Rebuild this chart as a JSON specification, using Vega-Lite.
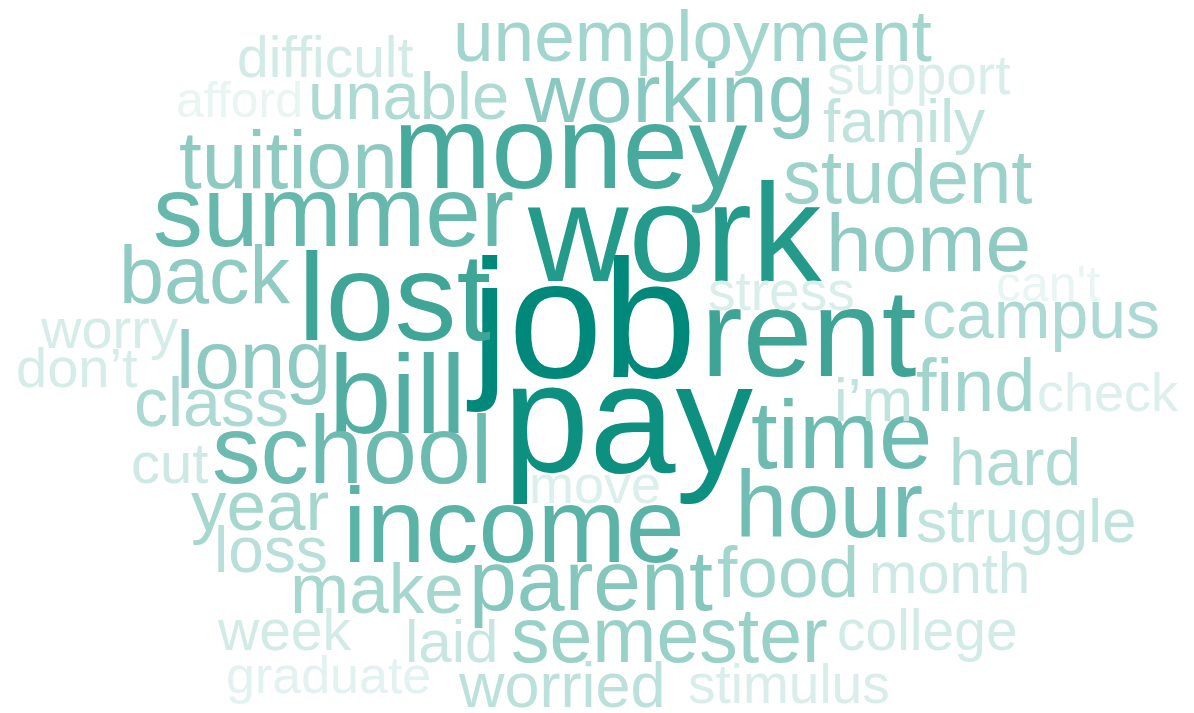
{
  "$schema": "https://vega.github.io/schema/vega-lite/v6.json",
  "width": 1194,
  "height": 713,
  "autosize": "none",
  "padding": 0,
  "background": "white",
  "config": {"view": {"stroke": null}},
  "data": {
    "values": [
      {"word": "job", "x": 471, "y": 377, "freq": 169},
      {"word": "pay", "x": 503, "y": 472, "freq": 155},
      {"word": "work", "x": 528, "y": 281, "freq": 139},
      {"word": "rent", "x": 701, "y": 376, "freq": 125},
      {"word": "lost", "x": 298, "y": 340, "freq": 124},
      {"word": "money", "x": 393, "y": 188, "freq": 118},
      {"word": "bill", "x": 329, "y": 433, "freq": 112},
      {"word": "income", "x": 343, "y": 562, "freq": 106},
      {"word": "summer", "x": 153, "y": 246, "freq": 100},
      {"word": "school", "x": 212, "y": 483, "freq": 97},
      {"word": "time", "x": 751, "y": 468, "freq": 96},
      {"word": "hour", "x": 735, "y": 537, "freq": 94},
      {"word": "parent", "x": 469, "y": 610, "freq": 86},
      {"word": "tuition", "x": 179, "y": 188, "freq": 82},
      {"word": "working", "x": 525, "y": 122, "freq": 84},
      {"word": "long", "x": 176, "y": 388, "freq": 82},
      {"word": "home", "x": 826, "y": 271, "freq": 82},
      {"word": "back", "x": 119, "y": 303, "freq": 81},
      {"word": "semester", "x": 511, "y": 662, "freq": 77},
      {"word": "student", "x": 783, "y": 203, "freq": 76},
      {"word": "unemployment", "x": 453, "y": 61, "freq": 73},
      {"word": "food", "x": 717, "y": 597, "freq": 73},
      {"word": "find", "x": 916, "y": 411, "freq": 74},
      {"word": "year", "x": 191, "y": 530, "freq": 71},
      {"word": "make", "x": 290, "y": 613, "freq": 71},
      {"word": "campus", "x": 922, "y": 338, "freq": 68},
      {"word": "class", "x": 134, "y": 426, "freq": 68},
      {"word": "unable", "x": 308, "y": 119, "freq": 67},
      {"word": "hard", "x": 949, "y": 485, "freq": 66},
      {"word": "worried", "x": 459, "y": 707, "freq": 63},
      {"word": "loss", "x": 214, "y": 572, "freq": 64},
      {"word": "family", "x": 823, "y": 142, "freq": 62},
      {"word": "struggle", "x": 916, "y": 542, "freq": 62},
      {"word": "laid", "x": 405, "y": 662, "freq": 60},
      {"word": "i’m", "x": 834, "y": 421, "freq": 62},
      {"word": "difficult", "x": 237, "y": 77, "freq": 57},
      {"word": "month", "x": 869, "y": 593, "freq": 58},
      {"word": "college", "x": 837, "y": 650, "freq": 57},
      {"word": "week", "x": 218, "y": 650, "freq": 57},
      {"word": "cut", "x": 131, "y": 483, "freq": 58},
      {"word": "worry", "x": 41, "y": 348, "freq": 56},
      {"word": "don’t", "x": 16, "y": 387, "freq": 56},
      {"word": "stimulus", "x": 688, "y": 703, "freq": 55},
      {"word": "stress", "x": 708, "y": 310, "freq": 55},
      {"word": "support", "x": 827, "y": 94, "freq": 55},
      {"word": "check", "x": 1037, "y": 411, "freq": 54},
      {"word": "move", "x": 529, "y": 503, "freq": 54},
      {"word": "graduate", "x": 226, "y": 693, "freq": 52},
      {"word": "can't", "x": 996, "y": 301, "freq": 50},
      {"word": "afford", "x": 176, "y": 117, "freq": 50}
    ]
  },
  "mark": {"type": "text", "font": "Liberation Sans", "align": "left", "baseline": "alphabetic"},
  "encoding": {
    "x": {"field": "x", "type": "quantitative", "scale": {"domain": [0, 1194], "nice": false, "zero": false}, "axis": null},
    "y": {"field": "y", "type": "quantitative", "scale": {"domain": [0, 713], "nice": false, "zero": false, "reverse": true}, "axis": null},
    "text": {"field": "word", "type": "nominal"},
    "size": {"field": "freq", "type": "quantitative", "scale": {"type": "linear", "domain": [0, 200], "range": [0, 200], "zero": true}, "legend": null},
    "color": {
      "field": "freq",
      "type": "quantitative",
      "scale": {
        "domain": [50, 54, 57, 62, 66, 74, 82, 95, 106, 124, 139, 155, 169],
        "range": ["#E8F5F3", "#DCEFEC", "#D2EBE7", "#C0E3DE", "#B0DBD5", "#A0D4CC", "#8ECAC2", "#70BCB2", "#5BB3A7", "#3FA597", "#239A8A", "#0E9080", "#00897A"],
        "interpolate": "rgb"
      },
      "legend": null
    }
  }
}
